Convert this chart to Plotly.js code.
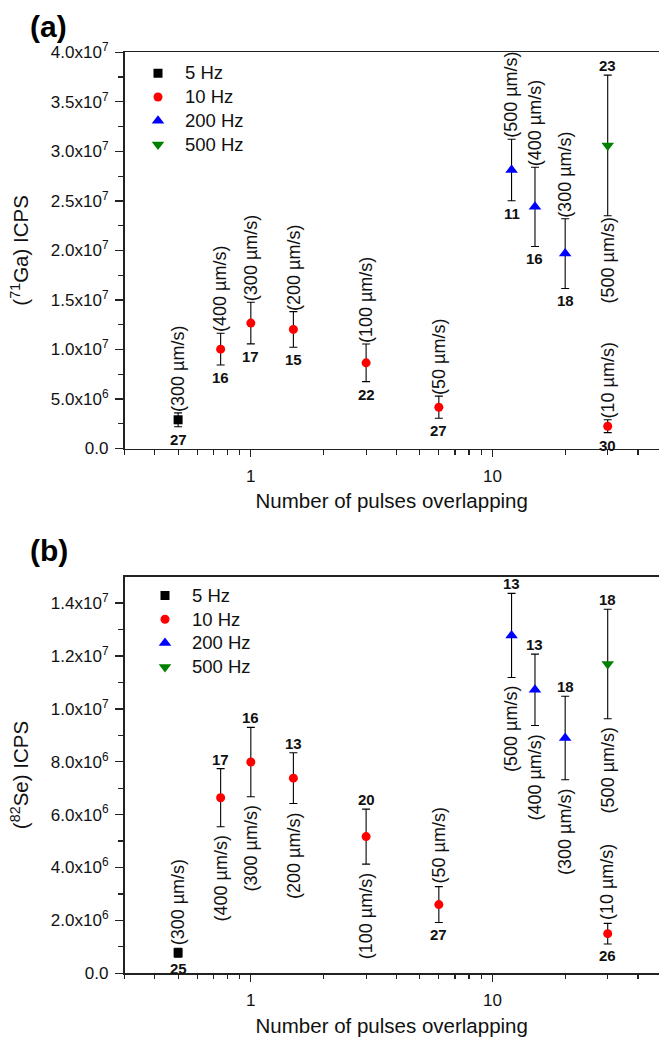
<!DOCTYPE html>
<html>
<head>
<meta charset="utf-8">
<script src="https://cdn.plot.ly/plotly-3.0.1.min.js"></script>
<style>html,body{margin:0;padding:0;background:#fff;}#chart{width:659px;height:1039px;}</style>
</head>
<body>
<div id="chart"></div>
<script>
// ---------- DATA ----------
// Number of pulses overlapping (x) per repetition-rate series
const x5 = [0.5];
const x10 = [0.75, 1, 1.5, 3, 6, 30];
const x200 = [12, 15, 20];
const x500 = [30];

// Scan-speed labels per point
const speed5 = ['(300 µm/s)'];
const speed10 = ['(400 µm/s)', '(300 µm/s)', '(200 µm/s)', '(100 µm/s)', '(50 µm/s)', '(10 µm/s)'];
const speed200 = ['(500 µm/s)', '(400 µm/s)', '(300 µm/s)'];
const speed500 = ['(500 µm/s)'];

// Panel (a): 71Ga ICPS
const ga5 = [2.9e6];
const ga5Err = [0.7e6];
const ga10 = [1.003e7, 1.266e7, 1.202e7, 0.865e7, 0.417e7, 0.225e7];
const ga10Err = [1.6e6, 2.1e6, 1.8e6, 1.9e6, 1.12e6, 0.65e6];
const ga200 = [2.812e7, 2.44e7, 1.968e7];
const ga200Err = [3.1e6, 4.0e6, 3.52e6];
const ga500 = [3.06e7];
const ga500Err = [7.1e6];
const gaN5 = [27];
const gaN10 = [16, 17, 15, 22, 27, 30];
const gaN200 = [11, 16, 18];
const gaN500 = [23];

// Panel (b): 82Se ICPS
const se5 = [0.78e6];
const se5Err = [0.17e6];
const se10 = [6.64e6, 7.99e6, 7.38e6, 5.17e6, 2.60e6, 1.50e6];
const se10Err = [1.1e6, 1.31e6, 0.96e6, 1.04e6, 0.68e6, 0.39e6];
const se200 = [12.78e6, 10.72e6, 8.9e6];
const se200Err = [1.59e6, 1.35e6, 1.58e6];
const se500 = [11.7e6];
const se500Err = [2.07e6];
const seN5 = [25];
const seN10 = [17, 16, 13, 20, 27, 26];
const seN200 = [13, 13, 18];
const seN500 = [18];

// Which label sits above the error bar ('speed' or 'count')
const aboveA5 = ['speed'];
const aboveA10 = ['speed', 'speed', 'speed', 'speed', 'speed', 'speed'];
const aboveA200 = ['speed', 'speed', 'speed'];
const aboveA500 = ['count'];
const aboveB5 = ['speed'];
const aboveB10 = ['count', 'count', 'count', 'count', 'speed', 'speed'];
const aboveB200 = ['count', 'count', 'count'];
const aboveB500 = ['count'];

// Axis ticks
const gaTickVals = [0, 5e6, 1e7, 1.5e7, 2e7, 2.5e7, 3e7, 3.5e7, 4e7];
const gaTickText = ['0.0', '5.0x10<sup>6</sup>', '1.0x10<sup>7</sup>', '1.5x10<sup>7</sup>', '2.0x10<sup>7</sup>',
  '2.5x10<sup>7</sup>', '3.0x10<sup>7</sup>', '3.5x10<sup>7</sup>', '4.0x10<sup>7</sup>'];
const gaMinor = [2.5e6, 7.5e6, 1.25e7, 1.75e7, 2.25e7, 2.75e7, 3.25e7, 3.75e7];
const seTickVals = [0, 2e6, 4e6, 6e6, 8e6, 1e7, 1.2e7, 1.4e7];
const seTickText = ['0.0', '2.0x10<sup>6</sup>', '4.0x10<sup>6</sup>', '6.0x10<sup>6</sup>', '8.0x10<sup>6</sup>',
  '1.0x10<sup>7</sup>', '1.2x10<sup>7</sup>', '1.4x10<sup>7</sup>'];
const seMinor = [1e6, 3e6, 5e6, 7e6, 9e6, 1.1e7, 1.3e7];
const xTickVals = [1, 10];
const xTickText = ['1', '10'];
const xMinor = [0.3, 0.4, 0.5, 0.6, 0.7, 0.8, 0.9, 2, 3, 4, 5, 6, 7, 8, 9, 20, 30, 40, 50];

const seriesNames = ['5 Hz', '10 Hz', '200 Hz', '500 Hz'];

// ---------- STYLE ----------
const FONT = 'Arial, "Liberation Sans", sans-serif';
const TXT = '#111';
const styles = [
  {symbol: 'square', color: '#000000', size: 9},
  {symbol: 'circle', color: '#ff0000', size: 9},
  {symbol: 'triangle-up', color: '#0000ff', size: 11},
  {symbol: 'triangle-down', color: '#008000', size: 11}
];

function mkTrace(name, xs, ys, errs, st, xa, ya, leg) {
  return {
    type: 'scatter', mode: 'markers',
    name: '<span style="font-size:18.5px">' + name + '</span>',
    x: xs, y: ys,
    xaxis: xa, yaxis: ya, legend: leg,
    marker: {symbol: st.symbol, color: st.color, size: st.size},
    error_y: {type: 'data', array: errs, visible: true, color: '#000', thickness: 1.1, width: 4},
    cliponaxis: false
  };
}

const xsAll = [x5, x10, x200, x500];
const speedAll = [speed5, speed10, speed200, speed500];
const panelA = {ys: [ga5, ga10, ga200, ga500], errs: [ga5Err, ga10Err, ga200Err, ga500Err],
  ns: [gaN5, gaN10, gaN200, gaN500], above: [aboveA5, aboveA10, aboveA200, aboveA500]};
const panelB = {ys: [se5, se10, se200, se500], errs: [se5Err, se10Err, se200Err, se500Err],
  ns: [seN5, seN10, seN200, seN500], above: [aboveB5, aboveB10, aboveB200, aboveB500]};

const traces = [];
for (let s = 0; s < 4; s++) {
  traces.push(mkTrace(seriesNames[s], xsAll[s], panelA.ys[s], panelA.errs[s], styles[s], 'x', 'y', 'legend'));
}
for (let s = 0; s < 4; s++) {
  traces.push(mkTrace(seriesNames[s], xsAll[s], panelB.ys[s], panelB.errs[s], styles[s], 'x2', 'y2', 'legend2'));
}

const annotations = [];
function addLabels(panel, xref, yref, gaps) {
  for (let s = 0; s < 4; s++) {
    const xs = xsAll[s];
    for (let i = 0; i < xs.length; i++) {
      const lx = Math.log10(xs[i]);
      const top = panel.ys[s][i] + panel.errs[s][i];
      const bot = panel.ys[s][i] - panel.errs[s][i];
      const sp = {text: speedAll[s][i], textangle: -90, showarrow: false, xref: xref, yref: yref, x: lx,
        xanchor: 'center', font: {family: FONT, size: 18, color: TXT}, borderpad: 0};
      const ct = {text: '<b>' + panel.ns[s][i] + '</b>', showarrow: false, xref: xref, yref: yref, x: lx,
        xanchor: 'center', font: {family: FONT, size: 15, color: TXT}, borderpad: 0};
      if (panel.above[s][i] === 'speed') {
        sp.y = top; sp.yanchor = 'bottom'; sp.yshift = gaps.speedUp;
        ct.y = bot; ct.yanchor = 'top'; ct.yshift = -gaps.countDown;
      } else {
        ct.y = top; ct.yanchor = 'bottom'; ct.yshift = gaps.countUp;
        sp.y = bot; sp.yanchor = 'top'; sp.yshift = -gaps.speedDown;
      }
      annotations.push(sp, ct);
    }
  }
}
addLabels(panelA, 'x', 'y', {speedUp: 0, countDown: 3, countUp: 0, speedDown: 1});
addLabels(panelB, 'x2', 'y2', {speedUp: 2, countDown: 2, countUp: 0, speedDown: 8});

annotations.push({text: '<b>(a)</b>', xref: 'paper', yref: 'paper', x: 48.5 / 659, y: 1 - 26.5 / 1039,
  xanchor: 'center', yanchor: 'middle', showarrow: false, font: {family: FONT, size: 30, color: '#000'}});
annotations.push({text: '<b>(b)</b>', xref: 'paper', yref: 'paper', x: 48.5 / 659, y: 1 - 550 / 1039,
  xanchor: 'center', yanchor: 'middle', showarrow: false, font: {family: FONT, size: 30, color: '#000'}});

const xLeft = 124.5 / 659;
const xRange = [Math.log10(0.3), 1.6894];

function xAxis(anchor) {
  return {
    type: 'log', domain: [xLeft, 1], range: xRange, anchor: anchor,
    tickmode: 'array', tickvals: xTickVals, ticktext: xTickText,
    ticks: 'outside', ticklen: 7, tickwidth: 1.3, tickcolor: '#222',
    ticklabelstandoff: 4,
    minor: {tickvals: xMinor, ticks: 'outside', ticklen: 4.5, tickwidth: 1.2, tickcolor: '#222', showgrid: false},
    showline: true, linewidth: 1.6, linecolor: '#222', mirror: true,
    showgrid: false, zeroline: false,
    tickfont: {family: FONT, size: 17, color: TXT},
    title: {text: 'Number of pulses overlapping', font: {family: FONT, size: 20.5, color: TXT}, standoff: 9}
  };
}
function yAxis(anchor, domain, range, tv, tt, minor, title) {
  return {
    domain: domain, range: range, anchor: anchor,
    tickmode: 'array', tickvals: tv, ticktext: tt,
    ticks: 'outside', ticklen: 8, tickwidth: 1.3, tickcolor: '#222',
    ticklabelstandoff: 3,
    minor: {tickvals: minor, ticks: 'outside', ticklen: 5, tickwidth: 1.2, tickcolor: '#222', showgrid: false},
    showline: true, linewidth: 1.6, linecolor: '#222', mirror: false,
    showgrid: false, zeroline: false,
    tickfont: {family: FONT, size: 17, color: TXT},
    title: {text: title, font: {family: FONT, size: 20.5, color: TXT}, standoff: 16}
  };
}

const layout = {
  width: 659, height: 1039,
  margin: {l: 0, r: 0, t: 0, b: 0},
  paper_bgcolor: '#fff', plot_bgcolor: '#fff',
  font: {family: FONT, color: TXT},
  showlegend: true,
  xaxis: xAxis('y'),
  yaxis: yAxis('x', [1 - 448.5 / 1039, 1 - 52.3 / 1039], [0, 4e7], gaTickVals, gaTickText, gaMinor,
    '(<sup>71</sup>Ga) ICPS'),
  xaxis2: xAxis('y2'),
  yaxis2: yAxis('x2', [1 - 973.3 / 1039, 1 - 576.7 / 1039], [0, 1.5e7], seTickVals, seTickText, seMinor,
    '(<sup>82</sup>Se) ICPS'),
  legend: {x: 131 / 659, y: 1 - 56.3 / 1039, xanchor: 'left', yanchor: 'top', bgcolor: 'rgba(0,0,0,0)',
    font: {family: FONT, size: 16, color: TXT}, itemwidth: 44, tracegroupgap: 0},
  legend2: {x: 138 / 659, y: 1 - 578.6 / 1039, xanchor: 'left', yanchor: 'top', bgcolor: 'rgba(0,0,0,0)',
    font: {family: FONT, size: 16, color: TXT}, itemwidth: 44, tracegroupgap: 0},
  annotations: annotations
};

Plotly.newPlot('chart', traces, layout, {displayModeBar: false, staticPlot: true});
</script>
</body>
</html>
